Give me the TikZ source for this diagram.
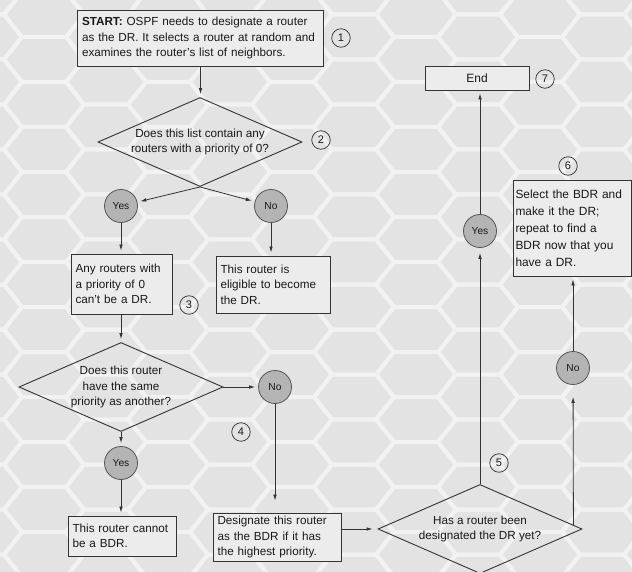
\documentclass[tikz,border=0pt]{standalone}
\usepackage{fontspec}
\setmainfont{Liberation Sans}
\usetikzlibrary{shapes.geometric,arrows.meta,calc}

\definecolor{bgbase}{HTML}{E3E3E3}
\definecolor{hexline}{HTML}{F2F2F2}
\definecolor{boxfill}{HTML}{ECECEC}
\definecolor{answerfill}{HTML}{B4B4B4}
\definecolor{answerline}{HTML}{555555}
\definecolor{ink}{HTML}{333333}

\begin{document}
\begin{tikzpicture}[x=1pt,y=-1pt,
  every node/.style={text=black!90},
  procbox/.style={draw=ink, line width=0.9pt, fill=boxfill, align=left,
    inner xsep=4.5pt, inner ysep=3pt,
    font=\fontsize{11.7}{15.5}\selectfont},
  question/.style={diamond, draw=ink, line width=0.9pt, aspect=2.3,
    inner sep=0pt, minimum width=204pt, minimum height=89pt, align=center,
    font=\fontsize{11.7}{15.5}\selectfont},
  answer/.style={circle, draw=answerline, fill=answerfill, line width=0.8pt,
    minimum size=33pt, inner sep=0pt, font=\fontsize{10.2}{12}\selectfont},
  stepnum/.style={circle, draw=ink, line width=0.7pt, minimum size=18.5pt,
    inner sep=0pt, font=\fontsize{11}{12}\selectfont},
  flow/.style={draw=ink, line width=0.8pt,
    -{Latex[length=6pt,width=3.6pt]}, shorten >=3pt}
]
\useasboundingbox (0,0) rectangle (632,572);

% honeycomb backdrop
\fill[bgbase] (0,0) rectangle (632,572);
\begin{scope}
  \clip (0,0) rectangle (632,572);
  \foreach \k in {-6,...,5} {
    \foreach \m in {-9,...,6} {
      \pgfmathsetmacro\cx{354+62*\k}
      \pgfmathsetmacro\cy{352+45*\m-22.5*mod(abs(\k),2)}
      \draw[hexline, line width=4pt, line join=round]
        (\cx-40,\cy) -- (\cx-22,\cy-22.5) -- (\cx+22,\cy-22.5) --
        (\cx+40,\cy) -- (\cx+22,\cy+22.5) -- (\cx-22,\cy+22.5) -- cycle;
    }
  }
\end{scope}

% process boxes
\node[procbox, minimum width=245pt, minimum height=56pt, text width=237pt]
  (start) at (200.5,38)
  {\textbf{START:} OSPF needs to designate a router\\
   as the DR. It selects a router at random and\\
   examines the router's list of neighbors.};
\node[procbox, minimum width=101pt, minimum height=60pt, text width=92pt]
  (zero) at (121.5,284)
  {Any routers with\\ a priority of 0\\ can't be a DR.};
\node[procbox, minimum width=114pt, minimum height=57pt, text width=105pt]
  (elig) at (273,284.5)
  {This router is\\ eligible to become\\ the DR.};
\node[procbox, minimum width=108pt, minimum height=40pt, text width=99pt]
  (cannot) at (122,536)
  {This router cannot\\ be a BDR.};
\node[procbox, minimum width=128pt, minimum height=44pt, text width=119pt]
  (desig) at (277,537)
  {Designate this router\\ as the BDR if it has\\ the highest priority.};
\node[procbox, minimum width=118pt, minimum height=96pt, text width=113pt,
  inner xsep=2.5pt, font=\fontsize{11.9}{17}\selectfont]
  (select) at (572,228)
  {Select the BDR and\\ make it the DR;\\ repeat to find a\\ BDR now that you\\ have a DR.};
\node[procbox, align=center, minimum width=104pt, minimum height=24pt,
  font=\fontsize{12}{14}\selectfont]
  (endbox) at (477,78) {End};

% decisions
\node[question] (d1) at (200,142)
  {Does this list contain any\\ routers with a priority of 0?};
\node[question] (d2) at (121,387)
  {Does this router\\ have the same\\ priority as another?};
\node[question] (d3) at (480,529)
  {Has a router been\\ designated the DR yet?};

% answers
\node[answer] (yes1) at (121,206) {Yes};
\node[answer] (no1)  at (271,206) {No};
\node[answer] (no2)  at (275,387) {No};
\node[answer] (yes2) at (121,463) {Yes};
\node[answer] (yes3) at (480,231) {Yes};
\node[answer] (no3)  at (573,368) {No};

% step numbers
\node[stepnum] (s1) at (341,38)  {1};
\node[stepnum] (s2) at (321,140) {2};
\node[stepnum] (s3) at (189,305) {3};
\node[stepnum] (s4) at (241,432) {4};
\node[stepnum] (s5) at (499,463) {5};
\node[stepnum] (s6) at (568,166) {6};
\node[stepnum] (s7) at (545,79)  {7};

% connectors
\draw[flow] (start.south) -- (start.south |- d1.north);
\draw[flow] (d1.south) -- (yes1);
\draw[flow] (d1.south) -- (no1);
\draw[flow] (yes1) -- (yes1.south |- zero.north);
\draw[flow] (no1) -- (no1.south |- elig.north);
\draw[flow] (zero.south -| d2.north) -- (d2.north);
\draw[flow] (d2.east) -- (no2);
\draw[flow] (d2.south) -- (yes2);
\draw[flow] (yes2) -- (yes2.south |- cannot.north);
\draw[flow, shorten >=12pt] (no2) -- (no2.south |- desig.north);
\draw[flow, shorten >=5pt] (desig.east |- d3.west) -- (d3.west);
\draw[flow, shorten >=5pt] (d3.north) -- (yes3);
\draw[flow] (yes3) -- (yes3.north |- endbox.south);
\coordinate (d3ne) at ($(d3.east)!0.088!(d3.north)$);
\draw[flow, shorten >=12pt] (d3ne) -- (no3);
\draw[flow] (no3) -- (no3.north |- select.south);
\end{tikzpicture}
\end{document}
